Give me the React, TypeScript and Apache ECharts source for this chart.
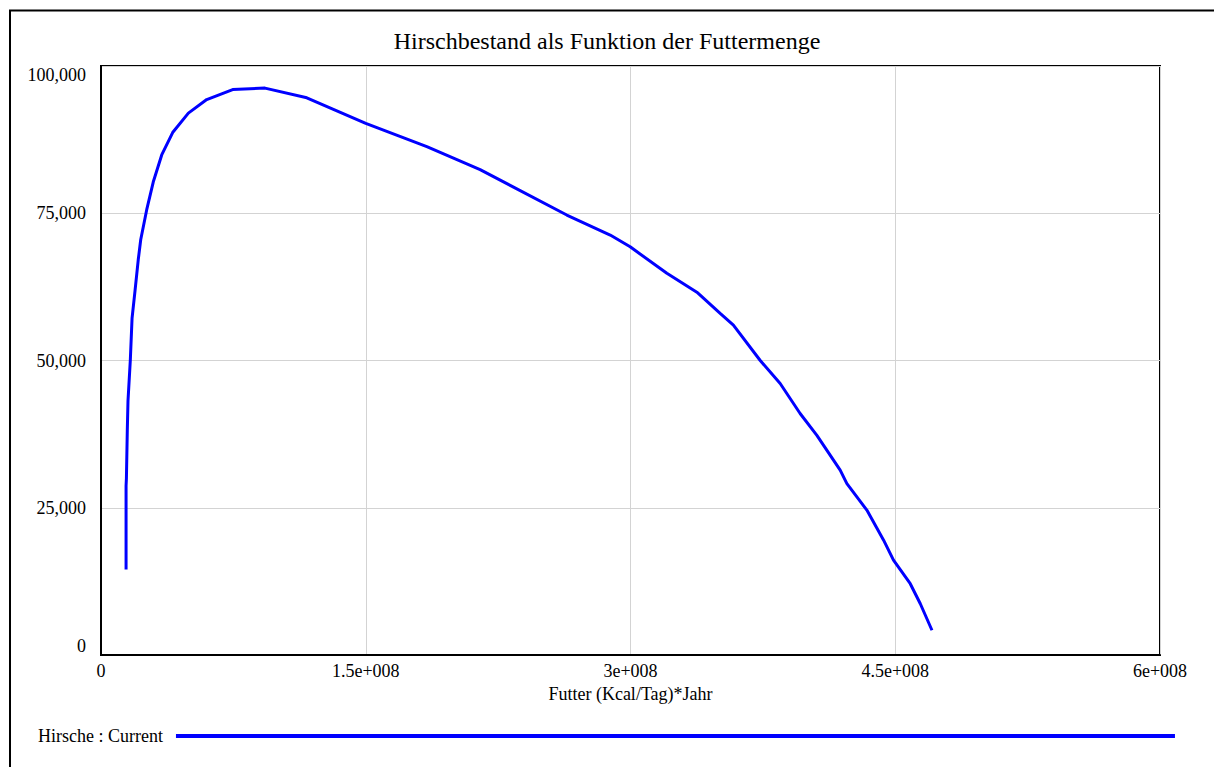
import React, { useEffect, useRef } from "react";
import * as echarts from "echarts";

const titleText = "Hirschbestand als Funktion der Futtermenge";
const xAxisName = "Futter (Kcal/Tag)*Jahr";
const seriesName = "Hirsche : Current";

// Futter (x) and Hirsche (y) values
const futter = [
  1.42e7, 1.42e7, 1.44e7, 1.49e7, 1.53e7, 1.66e7, 1.76e7, 1.93e7, 2.11e7, 2.25e7,
  2.59e7, 2.96e7, 3.44e7, 4.06e7, 4.95e7, 5.99e7, 7.46e7, 9.29e7, 1.166e8, 1.5e8,
  1.846e8, 2.148e8, 2.639e8, 2.885e8, 2.998e8, 3.206e8, 3.376e8, 3.508e8, 3.583e8, 3.735e8,
  3.848e8, 3.961e8, 4.056e8, 4.188e8, 4.226e8, 4.339e8, 4.434e8, 4.49e8, 4.585e8, 4.642e8,
  4.708e8,
];
const hirsche = [
  14500, 28700, 30000, 38100, 43200, 50000, 57200, 61900, 67100, 70500,
  75600, 80300, 84900, 88700, 92000, 94300, 96000, 96250, 94600, 90250,
  86300, 82400, 74700, 71300, 69300, 64800, 61600, 58000, 56000, 50000,
  46100, 41000, 37300, 31400, 29100, 24600, 19500, 16100, 12100, 8700,
  4200,
];

const xTicks = { min: 0, max: 6e8, interval: 1.5e8 };
const yTicks = { min: 0, max: 100000, interval: 25000 };

const FONT = "Liberation Serif";

function sci(v: number): string {
  if (v === 0) return "0";
  const exp = Math.floor(Math.log10(Math.abs(v)) + 1e-9);
  const mant = Math.round((v / Math.pow(10, exp)) * 1000) / 1000;
  return `${mant}e+${String(exp).padStart(3, "0")}`;
}

export default function App() {
  const ref = useRef<HTMLDivElement>(null);
  useEffect(() => {
    if (!ref.current) return;
    const chart = echarts.init(ref.current, undefined, { renderer: "svg" });
    const data = futter.map((x, i) => [x, hirsche[i]]);
    chart.setOption({
      animation: false,
      backgroundColor: "#ffffff",
      textStyle: { fontFamily: FONT },
      title: {
        text: titleText,
        left: "center",
        top: 29,
        padding: 0,
        textStyle: { fontFamily: FONT, fontSize: 24, fontWeight: "normal", color: "#000" },
      },
      legend: {
        data: [seriesName],
        left: 38,
        top: 727,
        align: "right",
        icon: "rect",
        itemWidth: 999,
        itemHeight: 4,
        padding: 0,
        textStyle: { fontFamily: FONT, fontSize: 18, color: "#000", padding: [0, 8, 0, 0] },
      },
      grid: {
        left: 101,
        top: 66,
        right: 54,
        bottom: 112,
        show: true,
        borderColor: "#000",
        borderWidth: 2,
        backgroundColor: "transparent",
      },
      xAxis: {
        type: "value",
        min: xTicks.min,
        max: xTicks.max,
        interval: xTicks.interval,
        name: xAxisName,
        nameLocation: "middle",
        nameGap: 28,
        nameTextStyle: { fontFamily: FONT, fontSize: 18, color: "#000" },
        axisLine: { show: true, lineStyle: { color: "#000", width: 2 } },
        axisTick: { show: false },
        splitLine: { show: true, lineStyle: { color: "#d3d3d3", width: 1 } },
        axisLabel: {
          fontFamily: FONT,
          fontSize: 18,
          color: "#000",
          margin: 7,
          formatter: (v: number) => sci(v),
        },
      },
      yAxis: {
        type: "value",
        min: yTicks.min,
        max: yTicks.max,
        interval: yTicks.interval,
        axisLine: { show: true, lineStyle: { color: "#000", width: 2 } },
        axisTick: { show: false },
        splitLine: { show: true, lineStyle: { color: "#d3d3d3", width: 1 } },
        axisLabel: {
          fontFamily: FONT,
          fontSize: 18,
          color: "#000",
          margin: 15,
          verticalAlignMinLabel: "bottom",
          verticalAlignMaxLabel: "top",
          formatter: (v: number) => v.toLocaleString("en-US"),
        },
      },
      graphic: [
        {
          type: "rect",
          silent: true,
          shape: { x: 10, y: 10.5, width: 1300, height: 900 },
          style: { fill: "none", stroke: "#000", lineWidth: 2 },
        },
      ],
      series: [
        {
          name: seriesName,
          type: "line",
          data,
          showSymbol: false,
          symbol: "none",
          color: "#0000ff",
          itemStyle: { color: "#0000ff" },
          lineStyle: { color: "#0000ff", width: 3 },
          smooth: false,
        },
      ],
    });
    return () => chart.dispose();
  }, []);
  return (
    <div
      ref={ref}
      style={{ position: "absolute", left: 0, top: 0, width: 1214, height: 767 }}
    />
  );
}
